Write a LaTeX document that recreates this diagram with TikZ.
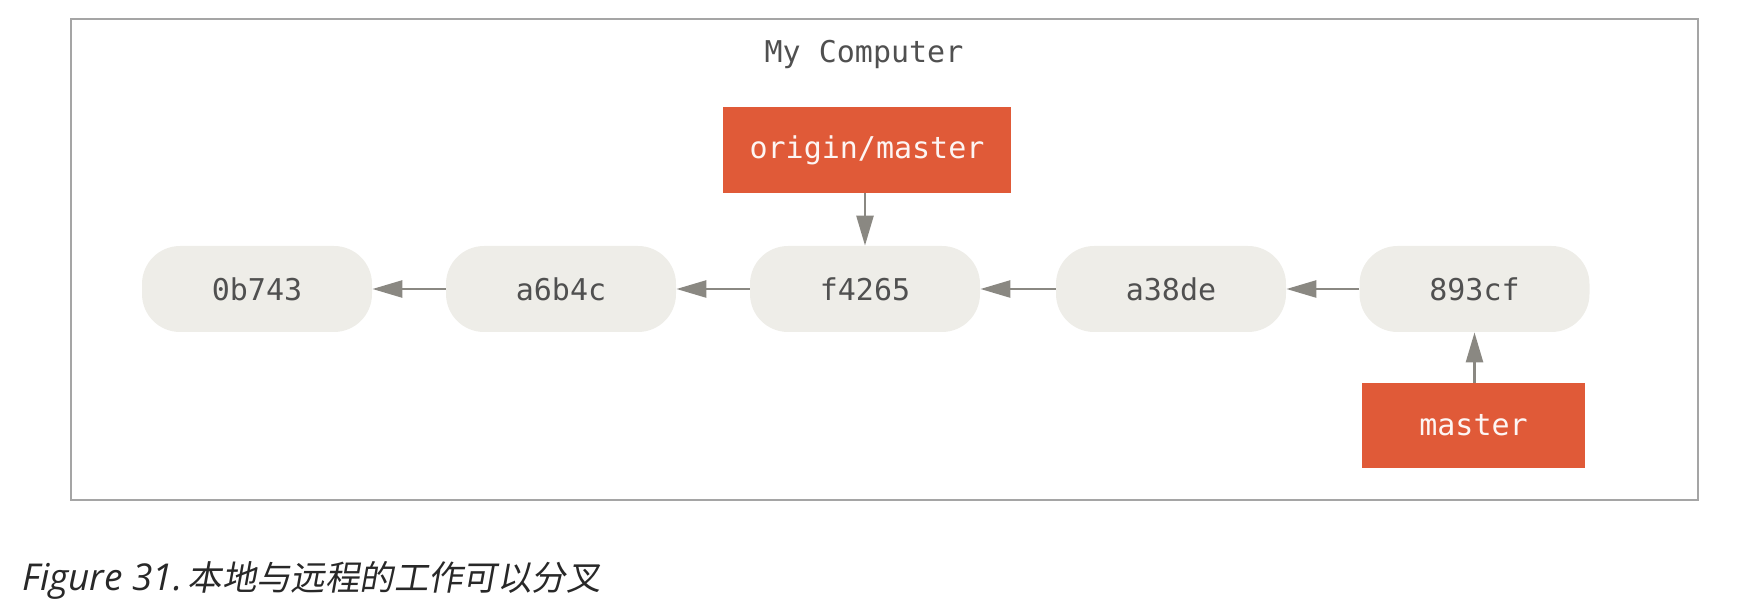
\documentclass[tikz,border=0pt]{standalone}
\usepackage{fontspec}
\usetikzlibrary{arrows.meta}
\newfontfamily\gitmono{DejaVu Sans Mono}
\newfontfamily\capfont{Open Sans}
\newfontfamily\capcjk[FakeSlant=0.18]{Noto Sans CJK SC}
\definecolor{commitfill}{RGB}{238,237,232}
\definecolor{reffill}{RGB}{224,90,56}
\definecolor{arrowgray}{RGB}{138,136,130}
\definecolor{textgray}{RGB}{80,80,80}
\definecolor{framegray}{RGB}{165,165,165}
\definecolor{captext}{RGB}{40,40,40}
\tikzset{
  commit/.style={rectangle, rounded corners=19pt, fill=commitfill, minimum width=115pt, minimum height=43pt, inner sep=0pt, text=textgray, font=\gitmono\fontsize{15pt}{18pt}\selectfont},
  ref/.style={rectangle, fill=reffill, inner sep=0pt, text=white!94!reffill, font=\gitmono\fontsize{15pt}{18pt}\selectfont},
  link/.style={draw=arrowgray, line width=1.3pt, -{Triangle[length=15pt,width=8.5pt]}},
}
\begin{document}
\begin{tikzpicture}[x=0.5pt,y=-0.5pt]
\useasboundingbox (0,0) rectangle (1758,604);
\node[draw=framegray, line width=1.1pt, minimum width=813.5pt, minimum height=240.5pt, inner sep=0pt] (frame) at (884.5,259.5) {};
\node[text=textgray, font=\gitmono\fontsize{15pt}{18pt}\selectfont] (title) at (864,54) {My Computer};
\node[ref, minimum width=144pt, minimum height=43pt] (om) at (867,150) {origin/master};
\node[commit] (c1) at (257,289) {0b743};
\node[commit] (c2) at (561,289) {a6b4c};
\node[commit] (c3) at (865,289) {f4265};
\node[commit] (c4) at (1171,289) {a38de};
\node[commit] (c5) at (1474.5,289) {893cf};
\node[ref, minimum width=111.5pt, minimum height=42.5pt] (ma) at (1473.5,425.5) {master};
\draw[link] (c2) -- (c1);
\draw[link] (c3) -- (c2);
\draw[link] (c4) -- (c3);
\draw[link] (c5) -- (c4);
\draw[link] (om.south -| c3) -- (c3.north);
\draw[link] (ma.north -| c5) -- (c5.south);
\node[anchor=base west, inner sep=0pt, text=captext] (cap) at (22,590) {\capfont\itshape\fontsize{18.5pt}{22pt}\selectfont Figure 31.\hspace{2.5pt}\capcjk\fontsize{17.2pt}{22pt}\selectfont 本地与远程的工作可以分叉};
\end{tikzpicture}
\end{document}
